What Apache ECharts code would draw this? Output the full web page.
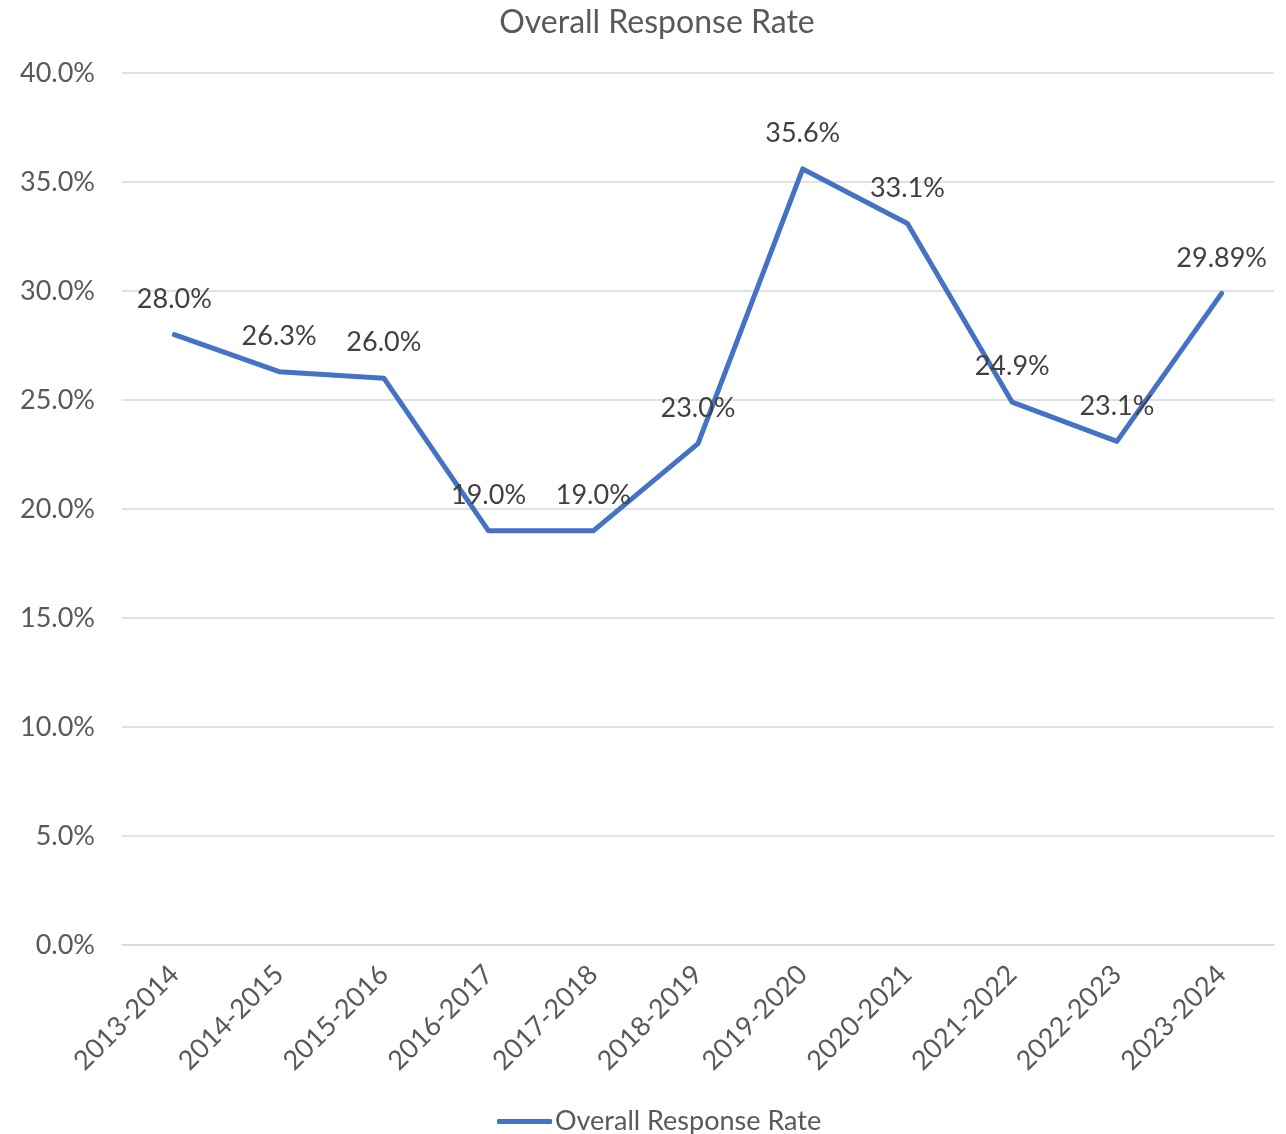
<!DOCTYPE html>
<html><head><meta charset="utf-8">
<script src="https://cdn.jsdelivr.net/npm/echarts@6/dist/echarts.min.js"></script>
<style>html,body{margin:0;padding:0;background:#fff}#c{width:1286px;height:1134px}</style>
</head><body><div id="c"></div>
<script>
const categories = ['2013-2014','2014-2015','2015-2016','2016-2017','2017-2018','2018-2019','2019-2020','2020-2021','2021-2022','2022-2023','2023-2024'];
const values = [28.0, 26.3, 26.0, 19.0, 19.0, 23.0, 35.6, 33.1, 24.9, 23.1, 29.89];
const valueLabels = ['28.0%','26.3%','26.0%','19.0%','19.0%','23.0%','35.6%','33.1%','24.9%','23.1%','29.89%'];
const seriesName = 'Overall Response Rate';
const FONT = 'Lato, "Open Sans", sans-serif';
const chart = echarts.init(document.getElementById('c'));
chart.setOption({
  animation: false,
  title: { text: seriesName, left: 652, top: 2, textAlign: 'center',
    textStyle: { fontFamily: FONT, fontSize: 32, fontWeight: 'normal', color: '#595959' } },
  grid: { left: 122, right: 12, top: 73, bottom: 189 },
  legend: { top: 1103, left: 492, itemWidth: 55, itemHeight: 5, itemGap: 6,
    icon: 'roundRect',
    textStyle: { fontFamily: FONT, fontSize: 27, color: '#595959', padding: [0, 0, 0, -2] },
    data: [seriesName] },
  xAxis: { type: 'category', data: categories, boundaryGap: true,
    axisLine: { show: true, lineStyle: { color: '#d9d9d9', width: 1.5 } },
    axisTick: { show: false },
    axisLabel: { rotate: 45, fontFamily: FONT, fontSize: 27, color: '#595959', margin: 25, interval: 0 } },
  yAxis: { type: 'value', min: 0, max: 40, interval: 5,
    axisLine: { show: false }, axisTick: { show: false },
    splitLine: { lineStyle: { color: '#d9d9d9', width: 1.5 } },
    axisLabel: { fontFamily: FONT, fontSize: 27, color: '#595959', margin: 27,
      formatter: v => v.toFixed(1) + '%' } },
  series: [{ name: seriesName, type: 'line', data: values,
    symbol: 'circle', symbolSize: 0, showSymbol: true,
    lineStyle: { color: '#4472C4', width: 5, cap: 'round', join: 'round' },
    itemStyle: { color: '#4472C4' },
    label: { show: true, position: 'top', distance: 22, fontFamily: FONT, fontSize: 27, color: '#404040',
      formatter: p => valueLabels[p.dataIndex] } }]
});
</script></body></html>
